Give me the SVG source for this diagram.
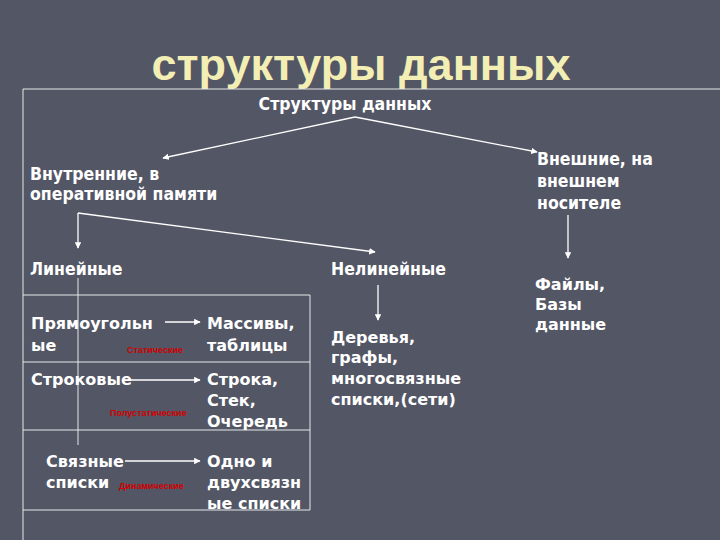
<svg xmlns="http://www.w3.org/2000/svg" width="720" height="540" viewBox="0 0 720 540">
<defs>
<marker id="ah" viewBox="0 0 10 10" refX="9" refY="5" markerWidth="5" markerHeight="5" orient="auto"><path d="M0,0L10,5L0,10z" fill="#fff"/></marker>
<style>
.t{font-family:"DejaVu Sans",sans-serif;font-weight:bold;font-size:16px;fill:#fff}
.s{font-family:"DejaVu Sans Condensed","DejaVu Sans",sans-serif;font-weight:bold;font-size:17.5px;fill:#fff}
.r{font-family:"Liberation Sans",sans-serif;font-weight:bold;font-size:9px;fill:#d00000}
.c{stroke:#fff;stroke-width:1.3;fill:none;marker-end:url(#ah)}
.g{stroke:#e8e8e8;stroke-width:1;fill:none}
</style>
</defs>
<rect width="720" height="540" fill="#535665"/>
<text x="361" y="80" text-anchor="middle" font-family="Liberation Sans,sans-serif" font-weight="bold" font-size="45" fill="#f3eeb4">структуры данных</text>
<g id="grid">
<path class="g" d="M23,89H720M23,89V540M23,295H310V510H23M23,362H310M23,430H310"/>
<path class="g" d="M78,278V445"/>
</g>
<g id="connectors">
<path class="c" d="M355,117L163,158"/>
<path class="c" d="M355,117L537,152"/>
<path class="c" d="M78,213V248"/>
<path class="c" d="M78,213L375,252"/>
<path class="c" d="M378,285V320"/>
<path class="c" d="M568,215V258"/>
<path class="c" d="M165,322H200"/>
<path class="c" d="M130,380H200"/>
<path class="c" d="M125,461H200"/>
</g>
<g id="n-root"><text class="s" x="345" y="110" text-anchor="middle">Структуры данных</text></g>
<g id="n-int"><text class="s" x="30" y="180">Внутренние,  в</text><text class="s" x="30" y="200">оперативной памяти</text></g>
<g id="n-ext"><text class="s" x="537" y="165">Внешние, на</text><text class="s" x="537" y="187">внешнем</text><text class="s" x="537" y="209">носителе</text></g>
<g id="n-lin"><text class="s" x="30" y="275">Линейные</text></g>
<g id="n-nonlin"><text class="s" x="331" y="275">Нелинейные</text></g>
<g id="n-files"><text class="t" x="535" y="290">Файлы,</text><text class="t" x="535" y="310">Базы</text><text class="t" x="535" y="330">данные</text></g>
<g id="n-trees"><text class="t" x="331" y="343">Деревья,</text><text class="t" x="331" y="363">графы,</text><text class="t" x="331" y="384">многосвязные</text><text class="t" x="331" y="405">списки,(сети)</text></g>
<g id="n-rect"><text class="t" x="31" y="329">Прямоугольн</text><text class="t" x="31" y="351">ые</text></g>
<g id="n-arr"><text class="t" x="207" y="329">Массивы,</text><text class="t" x="207" y="351">таблицы</text></g>
<g id="n-str"><text class="t" x="31" y="385">Строковые</text></g>
<g id="n-stack"><text class="t" x="207" y="385">Строка,</text><text class="t" x="207" y="406">Стек,</text><text class="t" x="207" y="427">Очередь</text></g>
<g id="n-linked"><text class="t" x="46" y="467">Связные</text><text class="t" x="46" y="488">списки</text></g>
<g id="n-lists"><text class="t" x="207" y="467">Одно и</text><text class="t" x="207" y="488">двухсвязн</text><text class="t" x="207" y="509">ые списки</text></g>
<text class="r" x="127" y="353">Статические</text>
<text class="r" x="110" y="416">Полустатические</text>
<text class="r" x="119" y="489">Динамические</text>
</svg>
